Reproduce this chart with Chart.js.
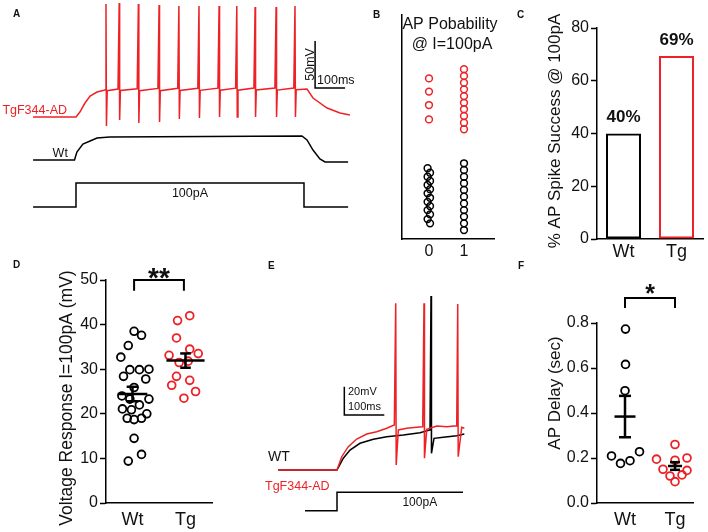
<!DOCTYPE html>
<html>
<head>
<meta charset="utf-8">
<script src="https://cdn.jsdelivr.net/npm/chart.js@4.4.0/dist/chart.umd.min.js"></script>
<style>
  body { margin: 0; width: 708px; height: 532px; background: #fff; position: relative; overflow: hidden;
         font-family: 'Liberation Sans', Arial, sans-serif; }
  canvas { position: absolute; left: 0; top: 0; }
  .tag { position: absolute; font-size: 10px; line-height: 10px; font-weight: bold; color: #111; }
</style>
</head>
<body>
<canvas id="panelA" width="708" height="532"></canvas>
<canvas id="panelB" width="708" height="532"></canvas>
<canvas id="panelC" width="708" height="532"></canvas>
<canvas id="panelD" width="708" height="532"></canvas>
<canvas id="panelE" width="708" height="532"></canvas>
<canvas id="panelF" width="708" height="532"></canvas>
<div class="tag" style="left:13px;top:9px">A</div>
<div class="tag" style="left:373px;top:10px">B</div>
<div class="tag" style="left:517px;top:10px">C</div>
<div class="tag" style="left:13px;top:260px">D</div>
<div class="tag" style="left:268px;top:261px">E</div>
<div class="tag" style="left:518px;top:261px">F</div>
<script>
// ---- data ----
const groups = ['Wt', 'Tg'];

// A: example traces, time in ms from current onset
const aTgT = [-143, 0, 13, 30, 47, 70, 93, 98, 100, 101.5, 104, 140, 144, 145.5, 148, 204, 208, 209.5, 212,
  273, 277, 278.5, 281, 339, 343, 344.5, 347, 406, 410, 411.5, 414, 473, 477, 478.5, 481, 532, 536, 537.5, 540,
  593, 597, 598.5, 601, 663, 667, 668.5, 671, 726, 730, 731.5, 734, 770, 790, 837, 880, 913];
const aTgV = [-70, -70, -64.7, -55.1, -47.7, -43.4, -41.5, -41.0, 50.2, -79.6, -42.0, -40.2, 51.3, -73.2, -41.8,
  -40.0, 50.2, -76.4, -42.0, -39.6, 49.1, -75.3, -42.0, -39.5, 48.1, -72.1, -41.8, -39.4, 48.1, -71.1, -41.6,
  -39.3, 48.1, -70.0, -41.5, -39.3, 48.1, -70.0, -41.4, -39.2, 47.0, -70.0, -41.3, -39.2, 47.0, -70.0, -41.3,
  -39.2, 48.1, -70.0, -41.0, -40.2, -49.8, -60.4, -65.7, -67.9];
const aWtT = [-143, -5, 3, 23, 47, 70, 113, 753, 770, 790, 813, 830, 907];
const aWtV = [-70, -70, -61.5, -53, -49.8, -46.6, -45.5, -44.5, -48.7, -59.4, -68.9, -72.1, -72.1];
const aStimT = [-143, 0, 0, 760, 760, 907];
const aStimI = [0, 0, 100, 100, 0, 0];

// B: AP probability dot columns (0 / 1)
const bTgX = [0, 0, 0, 0, 1, 1, 1, 1, 1, 1, 1, 1, 1, 1];
const bTgY = [71.7, 65.8, 59.8, 53.4, 75.8, 72.8, 69.8, 66.8, 63.8, 60.8, 57.9, 54.9, 51.9, 49.0];
const bWtX = [-0.04, 0.03, -0.04, 0.03, -0.04, 0.03, -0.04, 0.03, -0.04, 0.03, -0.04, 0.03, -0.04, 0.03,
  1, 1, 1, 1, 1, 1, 1, 1, 1, 1, 1];
const bWtY = [31.6, 29.6, 27.8, 25.9, 24.1, 22.2, 20.4, 18.4, 16.6, 14.7, 12.9, 11.0, 8.9, 7.0,
  33.8, 30.8, 27.8, 24.9, 21.9, 18.9, 15.9, 12.9, 10.0, 7.0, 4.0];

// C: % AP spike success @ 100pA
const spikeSuccess = [40, 69.4];

// D: voltage response (mV)
const dWtX = [0.03, 0.17, -0.08, -0.22, -0.05, 0.13, 0.31, -0.17, 0.25, 0.03, -0.20, -0.05, 0.31, 0.13, -0.19,
  -0.02, 0.27, -0.10, 0.03, 0.17, 0.03, 0.17, -0.08];
const dWtY = [38.5, 37.6, 35.3, 32.7, 29.9, 29.9, 30.0, 28.4, 27.8, 25.9, 24.0, 23.3, 23.3, 22.0, 21.1,
  20.9, 20.0, 19.0, 18.7, 19.0, 14.5, 10.9, 9.4];
const dTgX = [1.08, 0.85, 0.83, 0.69, 1.08, 1.24, 0.88, 1.05, 0.83, 1.08, 0.74, 1.19, 0.97];
const dTgY = [42.0, 40.9, 37.0, 33.1, 34.5, 33.5, 31.5, 31.8, 28.4, 27.5, 26.4, 25.0, 23.5];

// E: first-spike traces
const eTgT = [-147, 0, 11.8, 28.3, 49.3, 74.3, 99.3, 124.3, 143.3, 146.8, 148, 153.3, 174.3, 199.3, 214.3,
  217.5, 218.7, 224.3, 249.3, 274.3, 299.3, 301.8, 303, 311.8, 318.3];
const eTgV = [-70, -70, -60.6, -53.5, -48.1, -44.6, -42.9, -40.5, -38.2, 47.8, -66.5, -41.7, -40.5, -39.8, -39.4,
  47.8, -61.7, -41.2, -38.9, -39.4, -38.7, 47.3, -60.6, -39.8, -40.5];
const eWtT = [-147, 0, 15.8, 32.5, 57.5, 90.8, 124.3, 165.8, 207.5, 232.5, 235, 236.2, 242.5, 265.8, 299.3, 318.3];
const eWtV = [-70, -70, -61.7, -55.9, -51.1, -48.3, -46.5, -45.3, -43.6, -41.7, 53, -58.2, -47.6, -46.9, -45.8, -44.6];
const eStimT = [-80, 0, 0, 315];
const eStimI = [0, 0, 100, 100];

// F: AP delay (sec)
const fWtX = [0.01, 0.01, 0, -0.27, -0.09, 0.10, 0.29];
const fWtY = [0.773, 0.616, 0.499, 0.209, 0.176, 0.188, 0.228];
const fTgX = [1.0, 0.63, 1.0, 1.24, 0.76, 1.24, 0.9, 1.14, 1.0];
const fTgY = [0.26, 0.195, 0.19, 0.2, 0.15, 0.145, 0.12, 0.125, 0.095];

// ---- helpers ----
const RED = '#ec2227';
const INK = '#111';
const FONT = "'Liberation Sans', Arial, sans-serif";

Chart.defaults.font.family = FONT;
Chart.defaults.color = INK;
Chart.defaults.responsive = false;
Chart.defaults.animation = false;
Chart.defaults.plugins.legend.display = false;
Chart.defaults.plugins.tooltip.enabled = false;

const zip = (xs, ys) => xs.map((x, i) => ({x: x, y: ys[i]}));

function text(ctx, str, x, y, o) {
  ctx.save();
  ctx.font = o.font;
  ctx.fillStyle = o.color || INK;
  ctx.textAlign = o.align || 'left';
  ctx.textBaseline = o.baseline || 'middle';
  ctx.translate(x, y);
  if (o.rot) ctx.rotate(o.rot);
  ctx.fillText(str, 0, 0);
  ctx.restore();
}

function path(ctx, pts, width, color) {
  ctx.save();
  ctx.strokeStyle = color || '#000';
  ctx.lineWidth = width;
  ctx.beginPath();
  pts.forEach((p, i) => i ? ctx.lineTo(p[0], p[1]) : ctx.moveTo(p[0], p[1]));
  ctx.stroke();
  ctx.restore();
}

function meanSem(vals) {
  const n = vals.length;
  const m = vals.reduce((a, b) => a + b, 0) / n;
  const sd = Math.sqrt(vals.reduce((a, b) => a + (b - m) * (b - m), 0) / (n - 1));
  return [m, sd / Math.sqrt(n)];
}

function drawMeanSem(chart, xc, vals, half, cap) {
  const sx = chart.scales.x, sy = chart.scales.y, ctx = chart.ctx;
  const [m, se] = meanSem(vals);
  const X = v => sx.getPixelForValue(v), Y = v => sy.getPixelForValue(v);
  path(ctx, [[X(xc - half), Y(m)], [X(xc + half), Y(m)]], 2.5);
  path(ctx, [[X(xc), Y(m - se)], [X(xc), Y(m + se)]], 2.5);
  path(ctx, [[X(xc - cap), Y(m + se)], [X(xc + cap), Y(m + se)]], 2.5);
  path(ctx, [[X(xc - cap), Y(m - se)], [X(xc + cap), Y(m - se)]], 2.5);
}

function drawBracket(chart, x0, x1, yTop, yLeg, mark, size, markY) {
  const sx = chart.scales.x, sy = chart.scales.y;
  const X = v => sx.getPixelForValue(v), Y = v => sy.getPixelForValue(v);
  path(chart.ctx, [[X(x0), Y(yLeg)], [X(x0), Y(yTop)], [X(x1), Y(yTop)], [X(x1), Y(yLeg)]], 2);
  text(chart.ctx, mark, X((x0 + x1) / 2), markY, {font: 'bold ' + size + 'px ' + FONT, align: 'center', baseline: 'alphabetic'});
}

const axisBorder = {display: true, color: '#000', width: 1.5};
const yGrid = {display: true, drawOnChartArea: false, drawTicks: true, tickLength: 6, tickWidth: 1.5, tickColor: '#000'};
const xGrid = {display: true, drawOnChartArea: false, drawTicks: false};
const twoTicks = s => { s.ticks = [{value: 0}, {value: 1}]; };

function dots(xs, ys, color, r, w) {
  return {data: zip(xs, ys), borderColor: color, backgroundColor: 'rgba(0,0,0,0)',
          pointRadius: r, pointBorderWidth: w, pointHoverRadius: r};
}

// ---- A: spike trains ----
new Chart('panelA', {
  type: 'line',
  data: {datasets: [
    {data: zip(aTgT, aTgV), yAxisID: 'yTg', borderColor: RED},
    {data: zip(aWtT, aWtV), yAxisID: 'yWt', borderColor: '#000'},
    {data: zip(aStimT, aStimI), yAxisID: 'yI', borderColor: '#000'}
  ]},
  options: {
    devicePixelRatio: 1,
    layout: {padding: {left: 0, top: 0, right: 338, bottom: 302}},
    elements: {point: {radius: 0}, line: {tension: 0, borderWidth: 1.5}},
    scales: {
      x: {type: 'linear', display: false, min: -253.3, max: 980},
      y: {display: false},
      yTg: {display: false, min: -190.2, max: 54.5},
      yWt: {display: false, min: -144.5, max: 100.2},
      yI: {display: false, min: -95.8, max: 862.5}
    }
  },
  plugins: [{
    id: 'annotA',
    afterDraw(chart) {
      const ctx = chart.ctx, s = chart.scales;
      const f = '12.5px ' + FONT;
      text(ctx, 'TgF344-AD', s.x.getPixelForValue(-30), s.yTg.getPixelForValue(-62.6), {font: f, color: RED, align: 'right'});
      text(ctx, 'Wt', s.x.getPixelForValue(-27), s.yWt.getPixelForValue(-63.6), {font: f, align: 'right'});
      text(ctx, '100pA', s.x.getPixelForValue(380), s.yI.getPixelForValue(58), {font: f, align: 'center'});
      // scale bar 50 mV / 100 ms
      const bx = s.x.getPixelForValue(797), by = s.yTg.getPixelForValue(-39.1);
      path(ctx, [[bx, s.yTg.getPixelForValue(10.9)], [bx, by], [s.x.getPixelForValue(897), by]], 1.5);
      text(ctx, '50mV', bx - 5, s.yTg.getPixelForValue(-14), {font: f, align: 'center', rot: -Math.PI / 2});
      text(ctx, '100ms', bx + 2, by - 7, {font: f});
    }
  }]
});

// ---- B: AP probability ----
new Chart('panelB', {
  type: 'scatter',
  data: {datasets: [dots(bTgX, bTgY, RED, 3.4, 1.5), dots(bWtX, bWtY, '#000', 3.4, 1.5)]},
  options: {
    devicePixelRatio: 1,
    layout: {padding: {left: 400, top: 15, right: 214, bottom: 273}},
    scales: {
      x: {type: 'linear', min: -0.771, max: 1.857, afterBuildTicks: twoTicks,
          ticks: {font: {size: 16}, padding: 3, callback: v => String(v)},
          grid: xGrid, border: axisBorder, afterFit: s => { s.height = 20; }},
      y: {min: 0, max: 100, ticks: {display: false}, grid: xGrid, border: axisBorder,
          afterFit: s => { s.width = 2; }}
    }
  },
  plugins: [{
    id: 'titleB',
    afterDraw(chart) {
      const cx = chart.chartArea.left + 48;
      text(chart.ctx, 'AP Pobability', cx, 25, {font: '16px ' + FONT, align: 'center'});
      text(chart.ctx, '@ I=100pA', cx + 2, 45, {font: '16px ' + FONT, align: 'center'});
    }
  }]
});

// ---- C: spike success bars ----
new Chart('panelC', {
  type: 'bar',
  data: {labels: groups, datasets: [{
    data: spikeSuccess, backgroundColor: 'rgba(0,0,0,0)', borderColor: ['#000', RED], borderWidth: 2,
    borderSkipped: false, barPercentage: 0.66, categoryPercentage: 1
  }]},
  options: {
    devicePixelRatio: 1,
    layout: {padding: {left: 540, top: 28, right: 5, bottom: 268}},
    scales: {
      x: {ticks: {font: {size: 18}, padding: 2}, grid: xGrid, border: axisBorder, afterFit: s => { s.height = 25; }},
      y: {min: 0, max: 80, ticks: {stepSize: 20, font: {size: 16}, padding: 2}, grid: yGrid, border: axisBorder,
          afterFit: s => { s.width = 57; }}
    }
  },
  plugins: [{
    id: 'annotC',
    afterDraw(chart) {
      const meta = chart.getDatasetMeta(0);
      meta.data.forEach((bar, i) => {
        text(chart.ctx, Math.round(spikeSuccess[i]) + '%', bar.x, bar.y - 16, {font: 'bold 17px ' + FONT, align: 'center'});
      });
      text(chart.ctx, '% AP Spike Success @ 100pA', 555, 131, {font: '17px ' + FONT, align: 'center', rot: -Math.PI / 2});
    }
  }]
});

// ---- D: voltage response ----
new Chart('panelD', {
  type: 'scatter',
  data: {datasets: [dots(dWtX, dWtY, '#000', 3.9, 1.8), dots(dTgX, dTgY, RED, 3.9, 1.8)]},
  options: {
    devicePixelRatio: 1,
    layout: {padding: {left: 60, top: 280, right: 496, bottom: 1}},
    scales: {
      x: {type: 'linear', min: -0.5, max: 1.5, afterBuildTicks: twoTicks,
          ticks: {font: {size: 18}, padding: 6, callback: v => groups[v]},
          grid: xGrid, border: axisBorder, afterFit: s => { s.height = 28; }},
      y: {min: 0, max: 50, ticks: {stepSize: 10, font: {size: 16}, padding: 2}, grid: yGrid, border: axisBorder,
          afterFit: s => { s.width = 46; }}
    }
  },
  plugins: [{
    id: 'annotD',
    afterDatasetsDraw(chart) {
      drawMeanSem(chart, 0, dWtY, 0.28, 0.11);
      drawMeanSem(chart, 1, dTgY, 0.36, 0.1);
    },
    afterDraw(chart) {
      drawBracket(chart, 0.03, 0.97, 50, 47.6, '**', 28, 287);
      text(chart.ctx, 'Voltage Response I=100pA (mV)', 67, 398, {font: '17.5px ' + FONT, align: 'center', rot: -Math.PI / 2});
    }
  }]
});

// ---- E: first-spike traces ----
new Chart('panelE', {
  type: 'line',
  data: {datasets: [
    {data: zip(eTgT, eTgV), yAxisID: 'yV', borderColor: RED},
    {data: zip(eWtT, eWtV), yAxisID: 'yV', borderColor: '#000'},
    {data: zip(eStimT, eStimI), yAxisID: 'yI', borderColor: '#000'}
  ]},
  options: {
    devicePixelRatio: 1,
    layout: {padding: {left: 240, top: 260, right: 208, bottom: 0}},
    elements: {point: {radius: 0}, line: {tension: 0, borderWidth: 1.5}},
    scales: {
      x: {type: 'linear', display: false, min: -242.5, max: 407.5},
      y: {display: false},
      yV: {display: false, min: -113.8, max: 78.4},
      yI: {display: false, min: -115.8, max: 1362.5}
    }
  },
  plugins: [{
    id: 'annotE',
    afterDraw(chart) {
      const ctx = chart.ctx, s = chart.scales;
      text(ctx, 'WT', s.x.getPixelForValue(-172.5), s.yV.getPixelForValue(-60.8), {font: '14px ' + FONT});
      text(ctx, 'TgF344-AD', s.x.getPixelForValue(-180), s.yV.getPixelForValue(-82), {font: '12.5px ' + FONT, color: RED});
      text(ctx, '100pA', s.x.getPixelForValue(207), s.yI.getPixelForValue(42), {font: '12px ' + FONT, align: 'center'});
      // scale bar 20 mV / 100 ms
      const bx = s.x.getPixelForValue(18.3), by = s.yV.getPixelForValue(-31.1);
      path(ctx, [[bx, s.yV.getPixelForValue(-11.1)], [bx, by], [s.x.getPixelForValue(118.3), by]], 1.5);
      text(ctx, '20mV', s.x.getPixelForValue(27.5), s.yV.getPixelForValue(-14.9), {font: '11px ' + FONT});
      text(ctx, '100ms', s.x.getPixelForValue(27.5), s.yV.getPixelForValue(-25.5), {font: '11px ' + FONT});
    }
  }]
});

// ---- F: AP delay ----
new Chart('panelF', {
  type: 'scatter',
  data: {datasets: [dots(fWtX, fWtY, '#000', 3.9, 1.8), dots(fTgX, fTgY, RED, 3.9, 1.8)]},
  options: {
    devicePixelRatio: 1,
    layout: {padding: {left: 560, top: 323, right: 15, bottom: 1}},
    scales: {
      x: {type: 'linear', min: -0.56, max: 1.36, afterBuildTicks: twoTicks,
          ticks: {font: {size: 18}, padding: 6, callback: v => groups[v]},
          grid: xGrid, border: axisBorder, afterFit: s => { s.height = 28; }},
      y: {min: 0, max: 0.8, ticks: {stepSize: 0.2, font: {size: 16}, padding: 2, callback: v => v.toFixed(1)},
          grid: yGrid, border: axisBorder, afterFit: s => { s.width = 37; }}
    }
  },
  plugins: [{
    id: 'annotF',
    afterDatasetsDraw(chart) {
      drawMeanSem(chart, 0, fWtY, 0.21, 0.12);
      drawMeanSem(chart, 1, fTgY, 0.14, 0.1);
    },
    afterDraw(chart) {
      drawBracket(chart, 0, 1, 0.911, 0.867, '*', 25, 302);
      text(chart.ctx, 'AP Delay (sec)', 555, 393, {font: '17px ' + FONT, align: 'center', rot: -Math.PI / 2});
    }
  }]
});
</script>
</body>
</html>
